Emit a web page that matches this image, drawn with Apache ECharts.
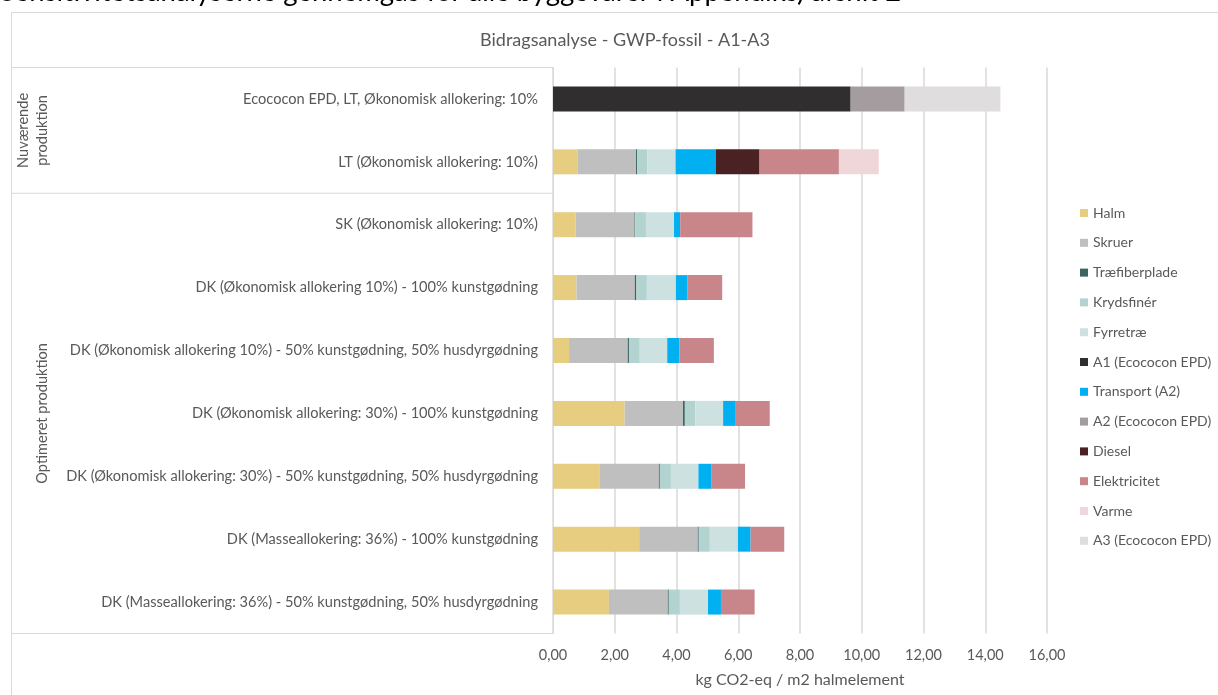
<!DOCTYPE html>
<html>
<head>
<meta charset="utf-8">
<script src="https://cdn.jsdelivr.net/npm/echarts@6/dist/echarts.min.js"></script>
<style>
html,body{margin:0;padding:0;background:#fff;}
#c{width:1218px;height:695px;}
</style>
</head>
<body>
<div id="c"></div>
<script>
const categories = [
  'Ecococon EPD, LT, Økonomisk allokering: 10%',
  'LT (Økonomisk allokering: 10%)',
  'SK (Økonomisk allokering: 10%)',
  'DK (Økonomisk allokering 10%) - 100% kunstgødning',
  'DK (Økonomisk allokering 10%) - 50% kunstgødning, 50% husdyrgødning',
  'DK (Økonomisk allokering: 30%) - 100% kunstgødning',
  'DK (Økonomisk allokering: 30%) - 50% kunstgødning, 50% husdyrgødning',
  'DK (Masseallokering: 36%) - 100% kunstgødning',
  'DK (Masseallokering: 36%) - 50% kunstgødning, 50% husdyrgødning'
];
const groupLabels = ['Nuværende\nproduktion', 'Optimeret produktion'];
const xTicks = [0, 2, 4, 6, 8, 10, 12, 14, 16];

const halm        = [null, 0.79, 0.73, 0.76, 0.52, 2.32, 1.52, 2.79, 1.81];
const skruer      = [null, 1.90, 1.91, 1.89, 1.90, 1.89, 1.91, 1.90, 1.91];
const traefiber   = [null, 0.04, 0.02, 0.05, 0.04, 0.06, 0.03, 0.03, 0.03];
const krydsfiner  = [null, 0.33, 0.35, 0.34, 0.35, 0.34, 0.36, 0.36, 0.36];
const fyrretrae   = [null, 0.91, 0.91, 0.94, 0.89, 0.90, 0.89, 0.91, 0.91];
const a1Epd       = [9.64, null, null, null, null, null, null, null, null];
const transport   = [null, 1.30, 0.20, 0.38, 0.39, 0.41, 0.43, 0.41, 0.42];
const a2Epd       = [1.75, null, null, null, null, null, null, null, null];
const diesel      = [null, 1.42, null, null, null, null, null, null, null];
const elektricitet= [null, 2.57, 2.34, 1.12, 1.12, 1.10, 1.08, 1.09, 1.09];
const varme       = [null, 1.29, null, null, null, null, null, null, null];
const a3Epd       = [3.10, null, null, null, null, null, null, null, null];

const seriesDefs = [
  ['Halm', halm, '#E6CD80'],
  ['Skruer', skruer, '#BFBFBF'],
  ['Træfiberplade', traefiber, '#3B6660'],
  ['Krydsfinér', krydsfiner, '#B2D3D0'],
  ['Fyrretræ', fyrretrae, '#CDE1E0'],
  ['A1 (Ecococon EPD)', a1Epd, '#302E2F'],
  ['Transport (A2)', transport, '#00B0F0'],
  ['A2 (Ecococon EPD)', a2Epd, '#A59CA0'],
  ['Diesel', diesel, '#4B2224'],
  ['Elektricitet', elektricitet, '#C8868A'],
  ['Varme', varme, '#EFD6D9'],
  ['A3 (Ecococon EPD)', a3Epd, '#DFDDDE']
];

const FONT = 'Lato';
const TXT = '#595959';
const chart = echarts.init(document.getElementById('c'));

const option = {
  backgroundColor: '#fff',
  animation: false,
  textStyle: {fontFamily: FONT},
  title: {
    text: 'Bidragsanalyse - GWP-fossil - A1-A3',
    left: 620, top: 26, textAlign: 'center',
    textStyle: {fontFamily: FONT, fontSize: 18, fontWeight: 'normal', color: TXT}
  },
  legend: {
    orient: 'vertical', left: 1080, top: 205, padding: 0,
    itemWidth: 8, itemHeight: 8, itemGap: 13.8,
    icon: 'rect',
    textStyle: {fontFamily: FONT, fontSize: 14, color: TXT, lineHeight: 16},
    data: seriesDefs.map(s => s[0])
  },
  grid: {left: 553, right: 171, top: 67.5, bottom: 61.5, containLabel: false},
  xAxis: {
    type: 'value', min: 0, max: 16, interval: 2,
    name: 'kg CO2-eq / m2 halmelement', nameLocation: 'middle', nameGap: 38,
    nameTextStyle: {fontFamily: FONT, fontSize: 16, color: TXT},
    axisLine: {show: false}, axisTick: {show: false},
    axisLabel: {fontFamily: FONT, fontSize: 14.5, color: TXT, margin: 14,
      formatter: v => xTicks.includes(v) ? v.toFixed(2).replace('.', ',') : ''},
    splitLine: {lineStyle: {color: '#D9D9D9', width: 1.5}}
  },
  yAxis: {
    type: 'category', data: categories, inverse: true,
    axisLine: {show: true, lineStyle: {color: '#D9D9D9', width: 1}},
    axisTick: {show: false},
    axisLabel: {fontFamily: FONT, fontSize: 14.6, color: TXT, margin: 15}
  },
  series: seriesDefs.map(([name, data, color]) => ({
    name, type: 'bar', stack: 'total', data, barWidth: 25,
    itemStyle: {color}
  }))
};
chart.setOption(option);

// decorations: category group brackets
const yc = i => chart.convertToPixel({yAxisIndex: 0}, i);
const gTop = 67.5, gBottom = 695 - 61.5;
const sep = (yc(1) + yc(2)) / 2;
const axisX = 553;
const lineStyle = {stroke: '#D9D9D9', lineWidth: 1};
chart.setOption({
  graphic: [
    {type: 'text', x: 0, y: -7.5, style: {text: 'Sensitivitetsanalyserne gennemgås for alle byggevarer i Appendiks) afsnit 2', fontFamily: FONT, fontSize: 27.5, fill: '#000', verticalAlign: 'middle'}},
    {type: 'rect', shape: {x: 11.5, y: 12.5, width: 1300, height: 800}, style: {fill: 'none', stroke: '#D9D9D9', lineWidth: 1}, silent: true},
    {type: 'line', shape: {x1: 11, y1: gTop, x2: axisX, y2: gTop}, style: lineStyle},
    {type: 'line', shape: {x1: 11, y1: sep, x2: axisX, y2: sep}, style: lineStyle},
    {type: 'line', shape: {x1: 11, y1: gBottom, x2: axisX, y2: gBottom}, style: lineStyle},
    {type: 'text', x: 33, y: (gTop + sep) / 2, rotation: Math.PI / 2,
      style: {text: groupLabels[0], fontFamily: FONT, fontSize: 14.6, fill: TXT, align: 'center', verticalAlign: 'middle', lineHeight: 19}},
    {type: 'text', x: 42, y: (sep + gBottom) / 2, rotation: Math.PI / 2,
      style: {text: groupLabels[1], fontFamily: FONT, fontSize: 14.6, fill: TXT, align: 'center', verticalAlign: 'middle'}}
  ]
});
</script>
</body>
</html>
